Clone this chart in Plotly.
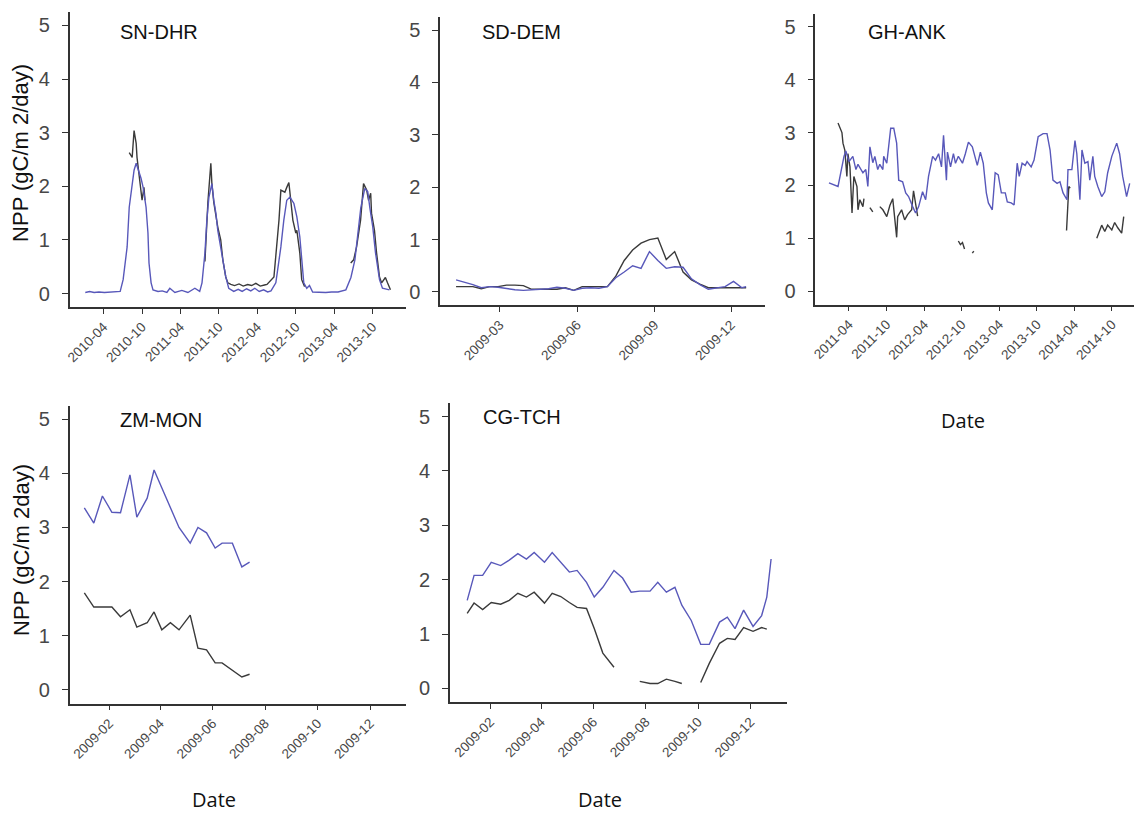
import plotly.graph_objects as go

# ---------------- DATA ----------------
# SN-DHR
sn_blue_dates = ["2010-01-04","2010-01-25","2010-02-15","2010-03-10","2010-04-05","2010-05-01","2010-05-25","2010-06-19",
    "2010-07-03","2010-07-22","2010-08-01","2010-08-15","2010-08-24","2010-09-03","2010-09-12","2010-09-26","2010-10-06",
    "2010-10-20","2010-10-29","2010-11-03","2010-11-13","2010-11-22","2010-12-16","2011-01-05","2011-01-27","2011-02-10",
    "2011-03-06","2011-04-08","2011-05-07","2011-06-09","2011-07-02","2011-07-13","2011-07-27","2011-08-05","2011-08-15",
    "2011-08-29","2011-09-07","2011-09-17","2011-09-26","2011-10-10","2011-10-20","2011-11-03","2011-11-17","2011-12-11",
    "2012-01-01","2012-01-20","2012-02-10","2012-03-01","2012-03-20","2012-04-10","2012-05-01","2012-05-20","2012-06-05",
    "2012-06-28","2012-07-22","2012-08-05","2012-08-19","2012-09-03","2012-09-22","2012-10-06","2012-10-20","2012-10-29",
    "2012-11-08","2012-11-22","2012-12-05","2012-12-20","2013-01-20","2013-02-20","2013-03-20","2013-04-20","2013-05-27",
    "2013-06-20","2013-07-09","2013-07-23","2013-08-06","2013-08-25","2013-09-08","2013-09-18","2013-10-02","2013-10-15",
    "2013-11-03","2013-11-17","2013-12-20"]
sn_blue_vals = [0.02,0.04,0.02,0.03,0.02,0.03,0.03,0.04,
    0.26,0.87,1.61,2.07,2.30,2.43,2.33,2.15,1.98,
    1.61,1.13,0.57,0.20,0.07,0.04,0.05,0.02,0.10,
    0.02,0.06,0.02,0.10,0.04,0.20,0.76,1.37,1.80,
    2.05,1.74,1.50,1.18,0.87,0.57,0.31,0.10,0.04,
    0.08,0.04,0.09,0.05,0.10,0.04,0.07,0.03,0.05,
    0.20,0.87,1.37,1.74,1.80,1.68,1.43,1.06,0.57,
    0.20,0.10,0.15,0.03,0.02,0.02,0.03,0.03,0.07,
    0.30,0.63,1.18,1.60,1.96,1.90,1.60,1.24,0.76,
    0.26,0.10,0.07]
sn_black_dates = ["2010-08-01","2010-08-15","2010-08-24","2010-09-03","2010-09-07","2010-09-17","2010-09-26","2010-10-01",
    "2010-10-10","2010-10-15","2010-10-20","2011-07-27","2011-08-01","2011-08-10","2011-08-24","2011-08-29","2011-09-07",
    "2011-09-17","2011-09-26","2011-10-10","2011-10-20","2011-11-03","2011-11-13","2011-11-27","2011-12-15","2012-01-05",
    "2012-01-25","2012-02-15","2012-03-05","2012-03-25","2012-04-15","2012-05-05","2012-05-17","2012-06-19","2012-07-13",
    "2012-07-22","2012-08-10","2012-08-19","2012-08-29","2012-09-07","2012-09-17","2012-10-01","2012-10-06","2012-10-20",
    "2012-10-29","2012-11-12","2012-11-20","2013-06-19","2013-07-03","2013-07-17","2013-08-05","2013-08-19","2013-09-03",
    "2013-09-12","2013-09-22","2013-09-26","2013-10-10","2013-10-20","2013-11-03","2013-11-13","2013-12-01","2013-12-11",
    "2013-12-25"]
sn_black_vals = [2.63,2.54,3.04,2.80,2.54,2.24,1.98,1.74,
    1.98,1.74,None,0.60,1.00,1.70,2.43,2.05,1.70,
    1.43,1.24,1.00,0.63,0.31,0.20,0.17,0.15,0.18,
    0.14,0.17,0.15,0.19,0.14,0.16,0.17,0.31,1.37,
    1.93,1.89,1.98,2.07,1.74,1.37,1.13,1.18,0.76,
    0.26,0.13,None,0.57,0.63,0.87,1.37,2.05,1.93,
    1.74,1.87,1.50,1.18,0.76,0.31,0.20,0.30,0.20,
    0.07]
sn_ticks = ["2010-04-01","2010-10-01","2011-04-01","2011-10-01","2012-04-01","2012-10-01","2013-04-01","2013-10-01"]

# SD-DEM
sd_dates = ["2009-01-08","2009-01-18","2009-01-28","2009-02-07","2009-02-17","2009-02-27","2009-03-09","2009-03-19",
    "2009-03-29","2009-04-08","2009-04-18","2009-04-28","2009-05-08","2009-05-18","2009-05-28","2009-06-07","2009-06-17",
    "2009-06-27","2009-07-07","2009-07-17","2009-07-27","2009-08-06","2009-08-16","2009-08-26","2009-09-05","2009-09-15",
    "2009-09-25","2009-10-05","2009-10-15","2009-10-25","2009-11-04","2009-11-14","2009-11-24","2009-12-04","2009-12-14",
    "2009-12-19"]
sd_blue = [0.23,0.19,0.14,0.08,0.10,0.09,0.06,0.04,
    0.03,0.04,0.04,0.06,0.09,0.07,0.03,0.07,0.08,
    0.07,0.10,0.27,0.38,0.50,0.45,0.77,0.60,0.45,
    0.48,0.47,0.25,0.14,0.05,0.07,0.10,0.20,0.08,
    0.10]
sd_black = [0.10,0.10,0.10,0.06,0.10,0.10,0.13,0.13,
    0.12,0.05,0.05,0.05,0.05,0.08,0.03,0.10,0.10,
    0.10,0.10,0.30,0.60,0.80,0.93,1.00,1.03,0.62,
    0.77,0.38,0.23,0.15,0.08,0.08,0.08,0.08,0.08,
    0.08]
sd_ticks = ["2009-03-01","2009-06-01","2009-09-01","2009-12-01"]

# GH-ANK
gh_blue_dates = ["2010-12-25","2011-02-07","2011-03-08","2011-03-17","2011-04-01","2011-04-20","2011-05-05","2011-05-15",
    "2011-06-08","2011-06-22","2011-07-02","2011-07-12","2011-07-26","2011-08-05","2011-08-19","2011-08-29","2011-09-13",
    "2011-09-17","2011-10-02","2011-10-12","2011-10-21","2011-11-05","2011-11-19","2011-11-29","2011-12-18","2012-01-02",
    "2012-01-16","2012-02-05","2012-02-19","2012-03-05","2012-03-24","2012-04-08","2012-04-22","2012-05-12","2012-05-26",
    "2012-06-10","2012-06-24","2012-07-04","2012-07-18","2012-07-23","2012-08-07","2012-08-21","2012-08-31","2012-09-14",
    "2012-10-04","2012-10-18","2012-11-02","2012-11-21","2012-12-06","2012-12-15","2012-12-30","2013-01-13","2013-01-28",
    "2013-02-07","2013-02-26","2013-03-12","2013-03-27","2013-04-11","2013-04-30","2013-05-10","2013-05-29","2013-06-12",
    "2013-06-27","2013-07-07","2013-07-21","2013-08-05","2013-08-14","2013-09-03","2013-09-17","2013-10-07","2013-10-31",
    "2013-11-19","2013-12-04","2013-12-18","2014-01-07","2014-01-21","2014-02-05","2014-02-24","2014-03-01","2014-03-20",
    "2014-04-04","2014-04-13","2014-04-28","2014-05-08","2014-05-22","2014-06-06","2014-06-15","2014-06-30","2014-07-09",
    "2014-07-24","2014-08-12","2014-08-27","2014-09-10","2014-09-30","2014-10-24","2014-11-07","2014-11-22","2014-12-11",
    "2014-12-26"]
gh_blue_vals = [2.05,1.98,2.55,2.65,2.45,2.55,2.30,2.40,
    2.24,2.30,1.98,2.73,2.43,2.55,2.30,2.40,2.30,
    2.55,2.42,2.73,3.08,3.08,2.80,2.10,2.07,1.86,
    1.79,1.60,1.48,1.60,1.88,1.73,2.17,2.55,2.48,
    2.60,2.35,2.95,2.10,2.63,2.35,2.60,2.42,2.55,
    2.42,2.60,2.82,2.73,2.48,2.38,2.63,2.42,1.86,
    1.67,1.54,2.24,2.20,1.86,1.86,1.69,1.67,1.63,
    2.42,2.17,2.42,2.38,2.45,2.35,2.48,2.92,2.98,
    2.98,2.67,2.10,2.04,2.07,1.86,1.73,2.30,2.30,
    2.85,2.60,1.73,2.67,2.42,2.45,2.10,2.55,2.17,
    1.98,1.79,1.88,2.24,2.55,2.80,2.60,2.17,1.79,
    2.04]
gh_black_dates = ["2011-02-07","2011-02-26","2011-03-03","2011-03-12","2011-03-22","2011-03-27","2011-04-06","2011-04-16",
    "2011-04-25","2011-05-10","2011-05-15","2011-05-24","2011-06-08","2011-06-13","2011-06-25","2011-07-12","2011-07-26",
    "2011-08-10","2011-08-29","2011-09-13","2011-10-02","2011-10-17","2011-10-31","2011-11-19","2011-11-24","2011-12-13",
    "2011-12-28","2012-01-11","2012-01-31","2012-02-09","2012-02-24","2012-02-29","2012-03-15","2012-09-14","2012-09-24",
    "2012-10-04","2012-10-14","2012-11-01","2012-11-21","2012-11-28","2012-12-15","2014-02-22","2014-03-05","2014-03-12",
    "2014-04-01","2014-07-19","2014-08-12","2014-08-27","2014-09-10","2014-09-30","2014-10-14","2014-10-29","2014-11-17",
    "2014-11-27"]
gh_black_vals = [3.18,3.00,2.80,2.67,2.17,2.60,2.35,1.48,
    2.17,1.98,1.54,1.73,1.60,1.75,None,1.58,1.50,
    None,1.60,1.54,1.41,1.62,1.75,1.02,1.41,1.54,
    1.35,1.45,1.54,1.90,1.54,1.42,None,0.95,0.88,
    0.92,0.80,None,0.72,0.76,None,1.15,1.98,1.95,
    None,1.00,1.25,1.13,1.25,1.16,1.30,1.20,1.10,
    1.41]
gh_ticks = ["2011-04-01","2011-10-01","2012-04-01","2012-10-01","2013-04-01","2013-10-01","2014-04-01","2014-10-01"]

# ZM-MON
zm_dates = ["2009-01-03","2009-01-14","2009-01-24","2009-02-04","2009-02-14","2009-02-25","2009-03-05","2009-03-17",
    "2009-03-25","2009-04-03","2009-04-13","2009-04-23","2009-05-06","2009-05-15","2009-05-25","2009-06-04","2009-06-12",
    "2009-06-24","2009-07-05","2009-07-14"]
zm_blue = [3.36,3.08,3.58,3.28,3.27,3.97,3.19,3.54,
    4.06,3.73,3.36,3.00,2.71,3.00,2.90,2.62,2.71,
    2.71,2.27,2.36]
zm_black = [1.79,1.53,1.53,1.53,1.35,1.48,1.16,1.24,
    1.44,1.11,1.24,1.11,1.38,0.77,0.74,0.50,0.50,
    0.37,0.24,0.29]

# CG-TCH
cg_dates = ["2009-01-05","2009-01-13","2009-01-23","2009-02-02","2009-02-13","2009-02-23","2009-03-05","2009-03-15",
    "2009-03-24","2009-04-05","2009-04-14","2009-04-24","2009-05-04","2009-05-13","2009-05-24","2009-06-02","2009-06-12",
    "2009-06-25","2009-07-05","2009-07-15","2009-07-25","2009-08-06","2009-08-15","2009-08-25","2009-09-04","2009-09-12",
    "2009-09-23","2009-10-04","2009-10-14","2009-10-26","2009-11-04","2009-11-13","2009-11-23","2009-12-04","2009-12-14",
    "2009-12-20","2009-12-25"]
cg_blue = [1.62,2.08,2.08,2.32,2.26,2.36,2.48,2.38,
    2.50,2.32,2.50,2.32,2.14,2.17,1.95,1.68,1.86,
    2.17,2.03,1.77,1.79,1.79,1.95,1.77,1.86,1.53,
    1.25,0.81,0.81,1.22,1.31,1.10,1.44,1.14,1.34,
    1.68,2.38]
cg_black = [1.38,1.57,1.45,1.58,1.55,1.62,1.75,1.68,
    1.77,1.57,1.75,1.69,1.58,1.49,1.47,1.10,0.65,
    0.39,None,None,0.13,0.09,0.09,0.17,0.13,0.09,
    None,0.11,0.46,0.83,0.92,0.90,1.12,1.05,1.12,
    1.09,None]
y2009_ticks = ["2009-02-01","2009-04-01","2009-06-01","2009-08-01","2009-10-01","2009-12-01"]

site_names = ["SN-DHR", "SD-DEM", "GH-ANK", "ZM-MON", "CG-TCH"]
y_ticks = [0, 1, 2, 3, 4, 5]

# ---------------- LAYOUT ----------------
W, H = 1134, 814
BLUE = "#5858ba"
BLACK = "#3a3a3a"
AX = "#333333"
TICKFONT = "#474747"

def fx(px):
    return px / W

def fy(py):
    return 1 - py / H

panels = [
    dict(name=site_names[0], xd=(65, 403), yd=(12, 307), xr=["2009-10-22", "2014-03-10"], ticks=sn_ticks,
         series=[(sn_black_dates, sn_black_vals, BLACK), (sn_blue_dates, sn_blue_vals, BLUE)], tpos=(113, 32)),
    dict(name=site_names[1], xd=(437, 763), yd=(17, 305), xr=["2008-12-20", "2010-01-10"], ticks=sd_ticks,
         series=[(sd_dates, sd_black, BLACK), (sd_dates, sd_blue, BLUE)], tpos=(477, 32)),
    dict(name=site_names[2], xd=(814, 1134), yd=(13.5, 304.5), xr=["2010-10-20", "2015-01-16"], ticks=gh_ticks,
         series=[(gh_black_dates, gh_black_vals, BLACK), (gh_blue_dates, gh_blue_vals, BLUE)], tpos=(865, 32)),
    dict(name=site_names[3], xd=(65, 403), yd=(405.5, 703.5), xr=["2008-12-17", "2010-01-12"], ticks=y2009_ticks,
         series=[(zm_dates, zm_black, BLACK), (zm_dates, zm_blue, BLUE)], tpos=(113, 420)),
    dict(name=site_names[4], xd=(447, 785), yd=(403, 702), xr=["2008-12-16", "2010-01-12"], ticks=y2009_ticks,
         series=[(cg_dates, cg_black, BLACK), (cg_dates, cg_blue, BLUE)], tpos=(478, 417)),
]

fig = go.Figure()
layout = dict(width=W, height=H, margin=dict(l=0, r=0, t=0, b=0), paper_bgcolor="white",
              plot_bgcolor="white", showlegend=False)
annotations = []

for i, p in enumerate(panels, start=1):
    xa = "x" if i == 1 else f"x{i}"
    ya = "y" if i == 1 else f"y{i}"
    for dates, vals, col in p["series"]:
        fig.add_trace(go.Scatter(x=dates, y=vals, mode="lines", xaxis=xa, yaxis=ya,
                                 line=dict(color=col, width=1.4), connectgaps=False, hoverinfo="skip"))
    xkey = "xaxis" if i == 1 else f"xaxis{i}"
    ykey = "yaxis" if i == 1 else f"yaxis{i}"
    layout[xkey] = dict(domain=[fx(p["xd"][0]), fx(p["xd"][1])], anchor=ya, type="date",
                        range=p["xr"], tickvals=p["ticks"], tickformat="%Y-%m", tickangle=-45,
                        showline=True, linecolor=AX, linewidth=1.6, ticks="outside", ticklen=5,
                        tickcolor=AX, tickwidth=1.3, showgrid=False, zeroline=False,
                        tickfont=dict(family="Liberation Sans", size=13.5, color=TICKFONT))
    layout[ykey] = dict(domain=[fy(p["yd"][1]), fy(p["yd"][0])], anchor=xa, range=[-0.25, 5.25],
                        tickvals=y_ticks, showline=True, linecolor=AX, linewidth=1.6, ticks="outside",
                        ticklen=6, tickcolor=AX, tickwidth=1.3, showgrid=False, zeroline=False,
                        ticklabelstandoff=8,
                        tickfont=dict(family="Liberation Sans", size=20, color=TICKFONT))
    annotations.append(dict(text=p["name"], x=fx(p["tpos"][0]), y=fy(p["tpos"][1]), xref="paper", yref="paper",
                            xanchor="left", yanchor="middle", showarrow=False,
                            font=dict(family="Liberation Sans", size=20, color="#111111")))

for txt, cx, cy in [("Date", 962, 420), ("Date", 210, 799), ("Date", 598, 799)]:
    annotations.append(dict(text=txt, x=fx(cx), y=fy(cy), xref="paper", yref="paper", xanchor="center",
                            yanchor="middle", showarrow=False,
                            font=dict(family="Open Sans", size=20, color="#111111")))

for txt, cx, cy in [("NPP (gC/m 2/day)", 15, 153), ("NPP (gC/m 2day)", 16, 550)]:
    annotations.append(dict(text=txt, x=fx(cx), y=fy(cy), xref="paper", yref="paper", xanchor="center",
                            yanchor="middle", showarrow=False, textangle=-90,
                            font=dict(family="Liberation Sans", size=22, color="#111111")))

layout["annotations"] = annotations
fig.update_layout(**layout)
fig.write_html("out.html", config={"displayModeBar": False},
               post_script="document.body.style.margin='0';document.body.style.padding='0';document.body.style.overflow='hidden';")
